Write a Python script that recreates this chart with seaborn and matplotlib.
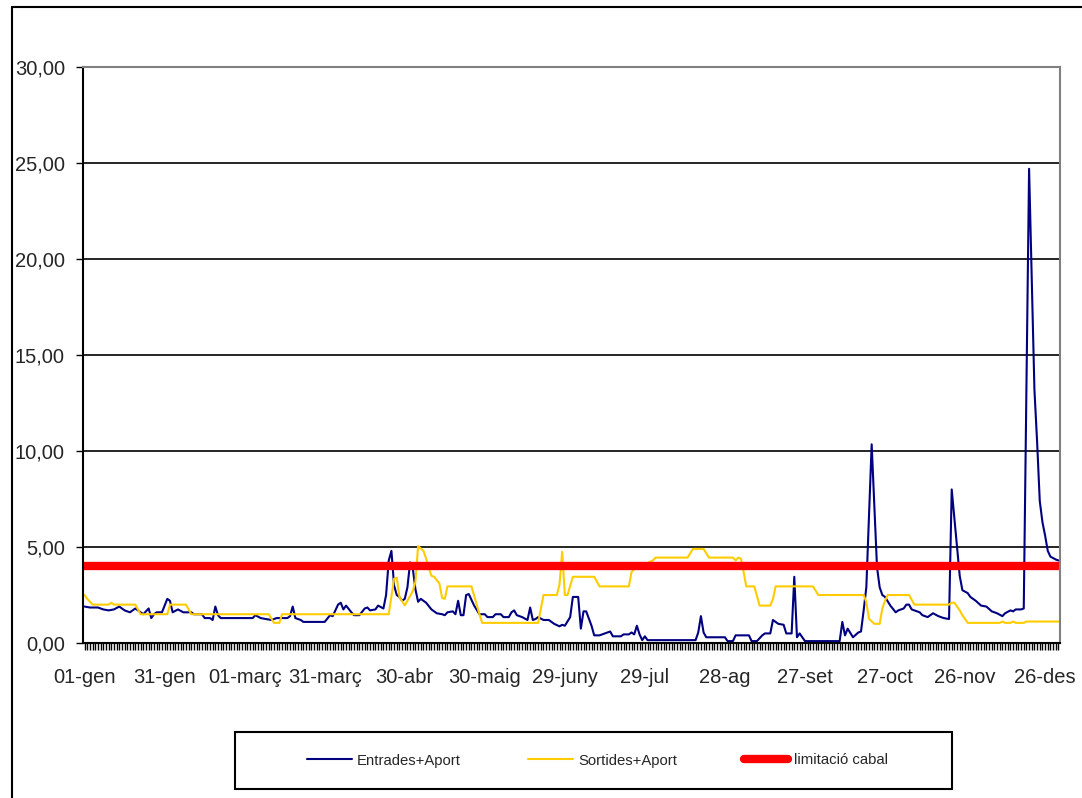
import matplotlib
matplotlib.use('Agg')
import pandas as pd
import matplotlib.pyplot as plt
import seaborn as sns
from matplotlib.lines import Line2D
from matplotlib.patches import Rectangle
from matplotlib.ticker import FuncFormatter

# Daily flows (m3/s): day of year (0 = 01-gen) and value
entrades_dia = [0, 2, 5, 7, 9, 11, 13, 15, 17, 19, 21, 22, 24, 25, 26, 27, 29, 31, 32, 33,
                35, 37, 40, 41, 44, 45, 47, 48, 49, 50, 51, 63, 64, 66, 70, 72, 74, 76, 77, 78,
                79, 81, 82, 90, 92, 93, 95, 96, 97, 98, 100, 101, 103, 105, 106, 107, 109, 110, 112, 113,
                114, 115, 116, 117, 118, 119, 120, 121, 122, 123, 124, 125, 126, 128, 130, 131, 132, 134, 135, 136,
                138, 139, 140, 141, 142, 143, 144, 146, 148, 150, 151, 153, 154, 156, 157, 159, 160, 161, 162, 164,
                166, 167, 168, 169, 170, 172, 174, 176, 178, 179, 180, 182, 183, 185, 186, 187, 188, 190, 191, 193,
                195, 197, 198, 201, 202, 204, 205, 206, 207, 208, 209, 210, 211, 229, 230, 231, 232, 233, 240, 241,
                243, 244, 249, 250, 252, 254, 255, 257, 258, 259, 260, 262, 263, 265, 266, 267, 268, 270, 283, 284,
                285, 286, 288, 290, 291, 292, 293, 295, 297, 298, 299, 300, 302, 304, 305, 307, 308, 309, 310, 312,
                313, 314, 316, 318, 320, 322, 324, 325, 328, 329, 331, 332, 334, 336, 338, 340, 342, 344, 345, 347,
                348, 349, 351, 352, 354, 356, 357, 358, 359, 360, 361, 362, 364, 365]
entrades_val = [1.9, 1.85, 1.85, 1.75, 1.7, 1.75, 1.9, 1.7, 1.6, 1.8, 1.6, 1.5, 1.8, 1.3, 1.5, 1.6, 1.6, 2.3, 2.2, 1.6,
                1.75, 1.6, 1.6, 1.5, 1.5, 1.3, 1.3, 1.2, 1.9, 1.45, 1.3, 1.3, 1.45, 1.3, 1.2, 1.3, 1.3, 1.3, 1.4, 1.9,
                1.3, 1.2, 1.1, 1.1, 1.45, 1.4, 2.0, 2.1, 1.75, 1.95, 1.6, 1.45, 1.45, 1.8, 1.85, 1.7, 1.75, 1.95, 1.8, 2.5,
                4.3, 4.8, 3.0, 2.5, 2.4, 2.2, 2.3, 2.9, 4.2, 3.9, 2.8, 2.15, 2.3, 2.1, 1.75, 1.65, 1.55, 1.5, 1.45, 1.6,
                1.65, 1.5, 2.2, 1.45, 1.45, 2.5, 2.55, 1.95, 1.5, 1.5, 1.35, 1.35, 1.5, 1.5, 1.35, 1.35, 1.6, 1.7, 1.45, 1.35,
                1.2, 1.85, 1.2, 1.25, 1.35, 1.2, 1.2, 1.0, 0.87, 0.95, 0.9, 1.35, 2.4, 2.4, 0.75, 1.65, 1.65, 0.9, 0.4, 0.4,
                0.5, 0.6, 0.35, 0.35, 0.45, 0.45, 0.55, 0.45, 0.9, 0.45, 0.15, 0.35, 0.15, 0.15, 0.55, 1.4, 0.55, 0.3, 0.3, 0.1,
                0.1, 0.4, 0.4, 0.1, 0.1, 0.4, 0.5, 0.5, 1.2, 1.1, 1.0, 0.95, 0.5, 0.5, 3.45, 0.3, 0.5, 0.1, 0.1, 1.1,
                0.4, 0.75, 0.3, 0.55, 0.6, 1.7, 2.9, 10.35, 3.95, 2.9, 2.5, 2.4, 1.95, 1.6, 1.7, 1.8, 2.0, 2.0, 1.75, 1.65,
                1.6, 1.45, 1.35, 1.55, 1.4, 1.3, 1.25, 8.0, 3.5, 2.75, 2.6, 2.4, 2.2, 1.95, 1.9, 1.65, 1.55, 1.4, 1.55, 1.7,
                1.65, 1.75, 1.75, 1.8, 24.7, 13.2, 10.5, 7.4, 6.3, 5.6, 4.8, 4.5, 4.35, 4.3]

sortides_dia = [0, 1, 3, 9, 10, 11, 19, 21, 31, 32, 38, 40, 69, 71, 73, 74, 114, 116, 117, 118,
                120, 121, 123, 124, 125, 127, 128, 129, 130, 131, 133, 134, 135, 136, 145, 148, 149, 170, 172, 177,
                178, 179, 180, 181, 183, 191, 193, 204, 205, 206, 213, 214, 226, 228, 232, 234, 243, 244, 245, 246,
                247, 248, 251, 253, 257, 258, 259, 273, 275, 292, 293, 294, 296, 298, 299, 300, 301, 309, 311, 324,
                325, 326, 328, 329, 331, 343, 344, 345, 347, 348, 349, 352, 353, 365]
sortides_val = [2.5, 2.3, 2.0, 2.0, 2.1, 2.0, 2.0, 1.5, 1.5, 2.0, 2.0, 1.5, 1.5, 1.05, 1.05, 1.5, 1.5, 3.35, 3.4, 2.4,
                1.96, 2.2, 2.7, 3.2, 5.05, 4.8, 4.4, 3.9, 3.5, 3.45, 3.1, 2.35, 2.3, 2.95, 2.95, 1.5, 1.05, 1.05, 2.5, 2.5,
                3.05, 4.75, 2.5, 2.5, 3.45, 3.45, 2.95, 2.95, 3.7, 3.85, 4.3, 4.45, 4.45, 4.9, 4.9, 4.45, 4.45, 4.3, 4.45, 4.4,
                3.7, 2.95, 2.95, 1.95, 1.95, 2.3, 2.95, 2.95, 2.5, 2.5, 2.13, 1.26, 1.0, 1.0, 1.8, 2.2, 2.5, 2.5, 2.0, 2.0,
                2.1, 2.1, 1.7, 1.45, 1.05, 1.05, 1.12, 1.05, 1.05, 1.12, 1.05, 1.05, 1.12, 1.12]

limitacio = 4.0

tick_dies = [0, 30, 60, 90, 120, 150, 180, 210, 240, 270, 300, 330, 360]
tick_labels = ['01-gen', '31-gen', '01-març', '31-març', '30-abr', '30-maig', '29-juny',
               '29-jul', '28-ag', '27-set', '27-oct', '26-nov', '26-des']

sns.set_theme(style='white')
plt.rcParams['font.family'] = ['Liberation Sans', 'DejaVu Sans']

df_ent = pd.DataFrame({'dia': entrades_dia, 'cabal': entrades_val})
df_sor = pd.DataFrame({'dia': sortides_dia, 'cabal': sortides_val})

fig = plt.figure(figsize=(10.82, 7.98), dpi=100)
ax = fig.add_axes([0.0767, 0.1942, 0.903, 0.7218])

sns.lineplot(data=df_ent, x='dia', y='cabal', ax=ax, color='#000080', linewidth=1.5,
             label='Entrades+Aport')
sns.lineplot(data=df_sor, x='dia', y='cabal', ax=ax, color='#FFCC00', linewidth=1.5,
             label='Sortides+Aport')
ax.axhline(limitacio, color='#FF0000', linewidth=6, solid_capstyle='round',
           label='limitació cabal')

ax.set_xlim(-0.6, 365.6)
ax.set_ylim(0, 30)
ax.set_yticks(range(0, 31, 5))
ax.yaxis.set_major_formatter(FuncFormatter(lambda v, p: f'{v:.2f}'.replace('.', ',')))
ax.set_xticks(tick_dies)
ax.set_xticklabels(tick_labels)
ax.set_xticks(range(0, 366), minor=True)
ax.set_xlabel('')
ax.set_ylabel('')

ax.grid(axis='y', color='black', linewidth=1.2)
ax.set_axisbelow(True)
ax.tick_params(axis='x', which='both', direction='out', length=5, width=1, color='black',
               bottom=True, labelsize=14.5, pad=13)
ax.tick_params(axis='y', which='major', direction='out', length=5, width=1, color='black',
               left=True, labelsize=14.5, pad=8)
for s in ['left', 'bottom']:
    ax.spines[s].set_color('black')
    ax.spines[s].set_linewidth(1.5)
for s in ['top', 'right']:
    ax.spines[s].set_color('#808080')
    ax.spines[s].set_linewidth(1.5)

handles, labels = ax.get_legend_handles_labels()
ax.get_legend().remove()
fig.legend(handles, labels, loc='center', bbox_to_anchor=(597.5 / 1082, 1 - 760.5 / 798),
           ncol=3, frameon=False, fontsize=10.7, handlelength=3.0, handletextpad=0.35,
           columnspacing=4.5)
fig.add_artist(Rectangle((235 / 1082, 1 - 789 / 798), 717 / 1082, 57 / 798,
                         transform=fig.transFigure, fill=False, edgecolor='black', linewidth=1.5))

# outer chart border (left and top visible)
fig.add_artist(Line2D([12 / 1082, 12 / 1082], [0, 1 - 7 / 798], transform=fig.transFigure,
                      color='black', linewidth=1.5))
fig.add_artist(Line2D([12 / 1082, 1], [1 - 7 / 798, 1 - 7 / 798], transform=fig.transFigure,
                      color='black', linewidth=1.5))

fig.savefig('out.png', dpi=100)
